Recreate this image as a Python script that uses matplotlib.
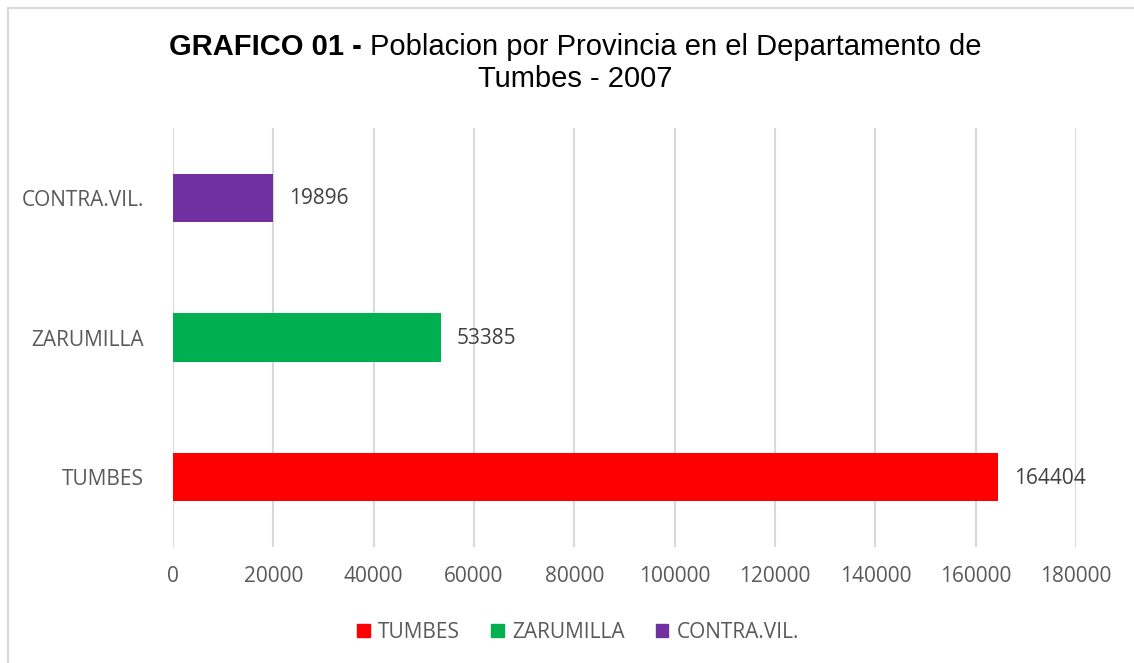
import matplotlib
matplotlib.use("Agg")
from matplotlib import pyplot as plt
from matplotlib.lines import Line2D
from matplotlib.patches import Patch

provincias = ["TUMBES", "ZARUMILLA", "CONTRA.VIL."]
poblacion = [164404, 53385, 19896]
colores = ["#FF0000", "#00B050", "#7030A0"]
xticks = list(range(0, 180001, 20000))

plt.rcParams["font.family"] = ["Open Sans", "DejaVu Sans"]

fig = plt.figure(figsize=(11.34, 6.63), dpi=100)
ax = fig.add_axes([173/1134, 1-547/663, (1076-173)/1134, (547-128)/663])

ypos = list(range(len(provincias)))
ax.barh(ypos, poblacion, height=0.345, color=colores, zorder=3)

for y, v in zip(ypos, poblacion):
    ax.annotate(str(v), (v, y), xytext=(16, -1), textcoords="offset pixels",
                ha="left", va="center", fontsize=15, color="#404040")

ax.set_xlim(0, 180000)
ax.set_ylim(-0.5, 2.5)
ax.set_xticks(xticks)
ax.set_xticklabels([str(t) for t in xticks])
ax.set_yticks(ypos)
ax.set_yticklabels(provincias)
ax.tick_params(axis="x", length=0, pad=14, labelsize=15, labelcolor="#595959")
ax.tick_params(axis="y", length=0, pad=21, labelsize=15, labelcolor="#595959")
ax.grid(axis="x", color="#D9D9D9", linewidth=1.5, zorder=0)
for s in ax.spines.values():
    s.set_visible(False)

# legend
handles = [Patch(color=c, label=p) for p, c in zip(provincias, colores)]
fig.legend(handles=handles, loc="center", bbox_to_anchor=(578/1134, 1-632/663),
           ncol=3, frameon=False, fontsize=15, handlelength=0.6, handleheight=0.6,
           columnspacing=1.5, handletextpad=0.4, labelcolor="#595959")

# title: bold part + normal part
fig.canvas.draw()
r = fig.canvas.get_renderer()
tb = fig.text(0, 0, "GRAFICO 01 - ", fontsize=21, fontweight="bold",
              family="Liberation Sans", color="black")
tn = fig.text(0, 0, "Poblacion por Provincia en el Departamento de", fontsize=21,
              family="Liberation Sans", color="black")
wb = tb.get_window_extent(r).width
wn = tn.get_window_extent(r).width
x0 = 575 - (wb + wn) / 2
tb.set_position((x0/1134, 1-47/663)); tb.set_va("center")
tn.set_position(((x0+wb)/1134, 1-47/663)); tn.set_va("center")
fig.text(575/1134, 1-79/663, "Tumbes - 2007", fontsize=21, family="Liberation Sans",
         ha="center", va="center")

# light border of the chart area
fig.add_artist(Line2D([8/1134, 1], [1-8/663, 1-8/663], color="#D9D9D9", lw=1.5))
fig.add_artist(Line2D([8/1134, 8/1134], [0, 1-8/663], color="#D9D9D9", lw=1.5))

fig.savefig("out.png", dpi=100)
